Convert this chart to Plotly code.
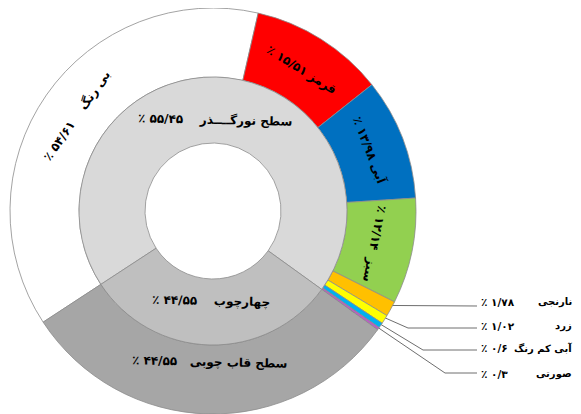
import math
import plotly.graph_objects as go

# ---------------- data ----------------
outer_names = ["بی رنگ", "قرمز", "آبی", "سبز", "نارنجی", "زرد", "آبی کم رنگ", "صورتی", "سطح قاب چوبی"]
outer_values = [54.61, 15.51, 13.98, 12.14, 1.78, 1.02, 0.6, 0.3, 44.55]
outer_colors = ["#FFFFFF", "#FF0000", "#0070C0", "#92D050", "#FFC000", "#FFFF00", "#00B0F0", "#B85FC4", "#A6A6A6"]

inner_names = ["سطح نورگــــذر", "چهارچوب"]
inner_pct = [55.45, 44.55]
inner_colors = ["#D9D9D9", "#BFBFBF"]

# outer slices whose label sits outside, with a leader line
outside_idx = [4, 5, 6, 7]

# ---------------- layout constants (page pixels) ----------------
OFF = 8                      # default body margin of the page
W, H = 581 - OFF, 414 - OFF  # figure size so that it fits the window
CX, CY = 213, 211
R_OUT, R_MID, R_IN = 203, 134, 68
ROTATION = 236.8
FONT = "DejaVu Sans"

# inner ring drawn sizes follow the hierarchy (light part = all colour slices)
inner_values = [sum(outer_values[:8]), outer_values[8]]


def fa_num(v):
    s = ("%g" % v).replace(".", "/")
    return s.translate(str.maketrans("0123456789", "۰۱۲۳۴۵۶۷۸۹"))


RLM = "\u200f"


def label(name, v, gap):
    return RLM + name + gap + fa_num(v) + " ٪" + RLM


def mid_angles(values):
    tot = sum(values)
    out, cum = [], 0.0
    for v in values:
        out.append((ROTATION + 360.0 * (cum + v / 2.0) / tot) % 360.0)
        cum += v
    return out


def polar(theta, r):
    t = math.radians(theta)
    return CX + r * math.sin(t), CY - r * math.cos(t)


def text_angle(theta):
    a = theta
    if 105 < a < 255:
        a -= 180
    if a > 180:
        a -= 360
    return a


def dom(r):
    return dict(x=[(CX - r - OFF) / W, (CX + r - OFF) / W],
                y=[1 - (CY + r - OFF) / H, 1 - (CY - r - OFF) / H])


fig = go.Figure()

# outer ring
fig.add_trace(go.Pie(
    values=outer_values, labels=outer_names, sort=False, direction="clockwise",
    rotation=ROTATION, hole=R_MID / R_OUT, textinfo="none", hoverinfo="skip",
    marker=dict(colors=outer_colors, line=dict(color="#8C8C8C", width=0.8)),
    domain=dom(R_OUT), showlegend=False,
))
# inner ring
fig.add_trace(go.Pie(
    values=inner_values, labels=inner_names, sort=False, direction="clockwise",
    rotation=ROTATION, hole=R_IN / R_MID, textinfo="none", hoverinfo="skip",
    marker=dict(colors=inner_colors, line=dict(color="#8C8C8C", width=0.8)),
    domain=dom(R_MID), showlegend=False,
))

annotations = []
# labels inside outer slices
o_mid = mid_angles(outer_values)
o_gap = ["\u00a0\u00a0\u00a0\u00a0", " ", " ", "\u00a0\u00a0", "", "", "", "", "\u00a0\u00a0\u00a0"]
o_rad = [166, 167, 168, 165, 0, 0, 0, 0, 152]
for i, (n, v) in enumerate(zip(outer_names, outer_values)):
    if i in outside_idx:
        continue
    x, y = polar(o_mid[i], o_rad[i])
    annotations.append(dict(x=x, y=y, xref="x", yref="y", text=label(n, v, o_gap[i]),
                            showarrow=False, textangle=text_angle(o_mid[i]),
                            font=dict(family=FONT, size=12, color="black", weight="bold")))

# labels inside inner slices
i_mid = mid_angles(inner_values)
for i, (n, v) in enumerate(zip(inner_names, inner_pct)):
    x, y = polar(i_mid[i], 91)
    annotations.append(dict(x=x, y=y, xref="x", yref="y", text=label(n, v, "\u00a0\u00a0\u00a0\u00a0"),
                            showarrow=False, textangle=text_angle(i_mid[i]),
                            font=dict(family=FONT, size=12, color="black", weight="bold")))

# outside labels with leader lines
dot_r = [196, 192, 186, 172]
elbow_x = [None, 408, 423, 445]
line_y = [306, 328, 350, 373]
text_y = [302, 326, 348, 374]
LINE_END, NUM_X, NAME_X = 477, 479, 574

lx, ly, dx, dy = [], [], [], []
for k, i in enumerate(outside_idx):
    px, py = polar(o_mid[i], dot_r[k])
    dx.append(px)
    dy.append(py)
    if elbow_x[k] is None:
        lx += [px, LINE_END, None]
        ly += [py, line_y[k], None]
    else:
        lx += [px, elbow_x[k], LINE_END, None]
        ly += [py, line_y[k], line_y[k], None]
    annotations.append(dict(x=NUM_X, y=text_y[k], xref="x", yref="y", xanchor="left",
                            text=RLM + fa_num(outer_values[i]) + " ٪" + RLM, showarrow=False,
                            font=dict(family=FONT, size=10.5, color="black", weight="bold")))
    annotations.append(dict(x=NAME_X, y=text_y[k], xref="x", yref="y", xanchor="right",
                            text=RLM + outer_names[i] + RLM, showarrow=False,
                            font=dict(family=FONT, size=10, color="black", weight="bold")))

fig.add_trace(go.Scatter(x=lx, y=ly, mode="lines", line=dict(color="#6E6E6E", width=1),
                         hoverinfo="skip", showlegend=False))
fig.add_trace(go.Scatter(x=dx, y=dy, mode="markers", marker=dict(color="black", size=5),
                         hoverinfo="skip", showlegend=False))

fig.update_layout(
    width=W, height=H, margin=dict(l=0, r=0, t=0, b=0),
    paper_bgcolor="white", plot_bgcolor="rgba(0,0,0,0)",
    xaxis=dict(range=[OFF, OFF + W], visible=False, domain=[0, 1], fixedrange=True),
    yaxis=dict(range=[OFF + H, OFF], visible=False, domain=[0, 1], fixedrange=True),
    annotations=annotations, showlegend=False,
)

fig.write_html("out.html")
